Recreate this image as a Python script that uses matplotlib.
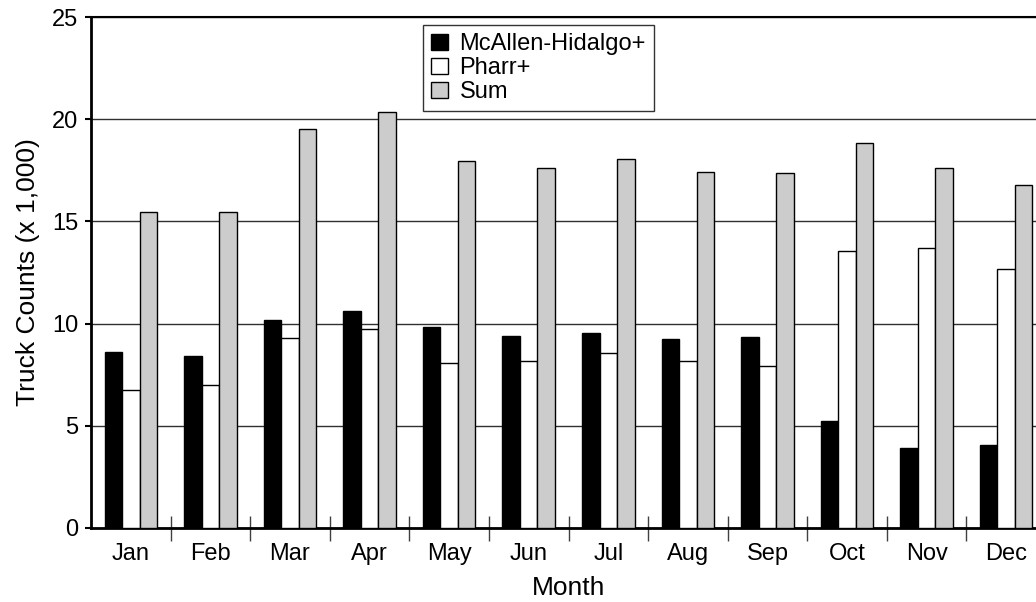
import numpy as np
import matplotlib as mpl
mpl.use('Agg')
import matplotlib.pyplot as plt

months = ['Jan', 'Feb', 'Mar', 'Apr', 'May', 'Jun',
          'Jul', 'Aug', 'Sep', 'Oct', 'Nov', 'Dec']
mcallen = [8.63, 8.41, 10.19, 10.6, 9.85, 9.41, 9.52, 9.23, 9.33, 5.25, 3.93, 4.05]
pharr = [6.75, 7.01, 9.31, 9.72, 8.06, 8.17, 8.58, 8.17, 7.93, 13.57, 13.68, 12.69]
total = [15.46, 15.46, 19.54, 20.35, 17.94, 17.6, 18.05, 17.43, 17.37, 18.85, 17.63, 16.77]

plt.rcParams['font.family'] = ['Liberation Sans', 'DejaVu Sans']
FS = 17
LABEL_FS = 19


def main():
  fig = plt.figure(figsize=(10.36, 6.02), dpi=100)
  # the chart runs past the right edge of the picture, as in the original
  ax = fig.add_axes([91 / 1036, 74 / 602, 955 / 1036, 511 / 602])

  x = np.arange(len(months))
  w = 0.22
  ax.bar(x - w, mcallen, w, color='black', edgecolor='black', linewidth=1,
         label='McAllen-Hidalgo+', zorder=3)
  ax.bar(x, pharr, w, color='white', edgecolor='black', linewidth=1,
         label='Pharr+', zorder=3)
  ax.bar(x + w, total, w, color='#cccccc', edgecolor='black', linewidth=1,
         label='Sum', zorder=3)

  ax.set_xlim(-0.5, 11.5)
  ax.set_ylim(0, 25)
  ax.set_yticks([0, 5, 10, 15, 20, 25])
  ax.yaxis.grid(True, color='#303030', linewidth=1, zorder=0)
  ax.set_axisbelow(True)

  ax.set_xticks(np.arange(0.5, 11.5, 1))
  ax.set_xticklabels([])
  ax.set_xticks(x, minor=True)
  ax.set_xticklabels(months, minor=True)
  ax.tick_params(axis='x', which='major', direction='inout', length=18,
                 width=1, color='#404040')
  ax.tick_params(axis='x', which='minor', length=0, pad=11, labelsize=FS)
  ax.tick_params(axis='y', direction='out', length=4, width=1.5, labelsize=FS, pad=5)

  for s in ['left', 'bottom']:
    ax.spines[s].set_linewidth(2)
  ax.spines['top'].set_linewidth(1.5)

  ax.set_xlabel('Month', fontsize=LABEL_FS, labelpad=7.5)
  ax.set_ylabel('Truck Counts (x 1,000)', fontsize=LABEL_FS, labelpad=8.5)

  leg = ax.legend(loc='upper left', bbox_to_anchor=(423 / 1036, 1 - 25 / 602),
                  bbox_transform=fig.transFigure, borderaxespad=0,
                  fontsize=FS, frameon=True, fancybox=False,
                  handlelength=0.7, handleheight=0.7, handletextpad=0.5,
                  labelspacing=0.08, borderpad=0.35)
  leg.get_frame().set_edgecolor('black')
  leg.get_frame().set_linewidth(1)

  plt.savefig('out.png', dpi=100)


if __name__ == '__main__':
  main()
